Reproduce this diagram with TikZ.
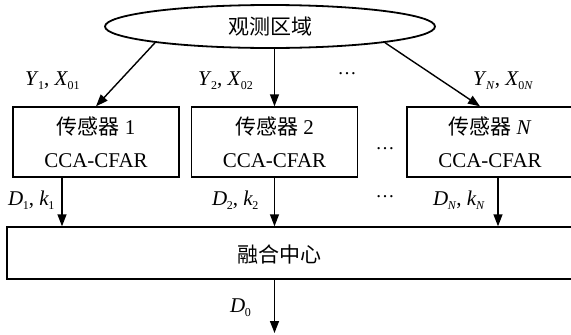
\documentclass[tikz,border=0pt]{standalone}
\usepackage{fontspec}
\setmainfont{Liberation Serif}
\newfontfamily\cjk{Noto Sans CJK SC}
\usetikzlibrary{arrows.meta,shapes.geometric}
\newcommand\lb[2]{\textit{#1}\kern-0.5pt\raisebox{-4.5pt}{\fontsize{12}{12}\selectfont #2}}
\begin{document}
\begin{tikzpicture}[x=1pt,y=-1pt,
  every node/.style={font=\fontsize{21}{24}\selectfont},
  box/.style={draw,line width=1.4pt,minimum width=166pt,minimum height=70pt,inner sep=0pt,align=center,font=\fontsize{21}{33}\selectfont},
  arr/.style={line width=1.4pt,-{Triangle[length=12pt,width=9pt]}},
  lbl/.style={anchor=base west,inner sep=0pt},
  dotsn/.style={anchor=base,inner sep=0pt,font=\fontsize{19}{19}\selectfont}]
\useasboundingbox (0,0) rectangle (571,335);
\clip (0,0) rectangle (571,335);
\node[ellipse,draw,line width=1.8pt,minimum width=330pt,minimum height=43pt,inner sep=0pt] (ell) at (270,26.5) {\cjk 观测区域};
\node[box] (s1) at (96,142) {{\cjk 传感器} 1\\CCA-CFAR};
\node[box] (s2) at (274.5,142) {{\cjk 传感器} 2\\CCA-CFAR};
\node[box] (s3) at (490,142) {{\cjk 传感器} \textit{N}\\CCA-CFAR};
\node[draw,line width=1.4pt,minimum width=580pt,minimum height=52pt,inner sep=0pt] (fc) at (297,253) {};
\node (fct) at (279,254) {\cjk 融合中心};
\coordinate (out) at (274.5,333);
\draw[arr] (ell.188) -- (s1.north);
\draw[arr] (ell.south -| s2.north) -- (s2.north);
\draw[arr] (ell.-8.5) -- ([xshift=-10pt]s3.north);
\draw[arr] ([xshift=-34pt]s1.south) -- ([xshift=-34pt]s1.south |- fc.north);
\draw[arr] (s2.south) -- (s2.south |- fc.north);
\draw[arr] ([xshift=8pt]s3.south) -- ([xshift=8pt]s3.south |- fc.north);
\draw[arr] (fc.south -| out) -- (out);
\node[lbl] (y1) at (25,85) {\lb{Y}{1}, \lb{X}{01}};
\node[lbl] (y2) at (198,85) {\lb{Y}{2}, \lb{X}{02}};
\node[lbl] (yn) at (473,85) {\lb{Y}{\textit{N}}, \lb{X}{0\textit{N}}};
\node[lbl] (d1) at (8,205) {\lb{D}{1}, \lb{k}{1}};
\node[lbl] (d2) at (212,205) {\lb{D}{2}, \lb{k}{2}};
\node[lbl] (dn) at (433,205) {\lb{D}{\textit{N}}, \lb{k}{\textit{N}}};
\node[lbl] (d0) at (230,312) {\lb{D}{0}};
\node[dotsn] (dt1) at (347,74) {…};
\node[dotsn] (dt2) at (385,149) {…};
\node[dotsn] (dt3) at (385,197) {…};
\end{tikzpicture}
\end{document}
